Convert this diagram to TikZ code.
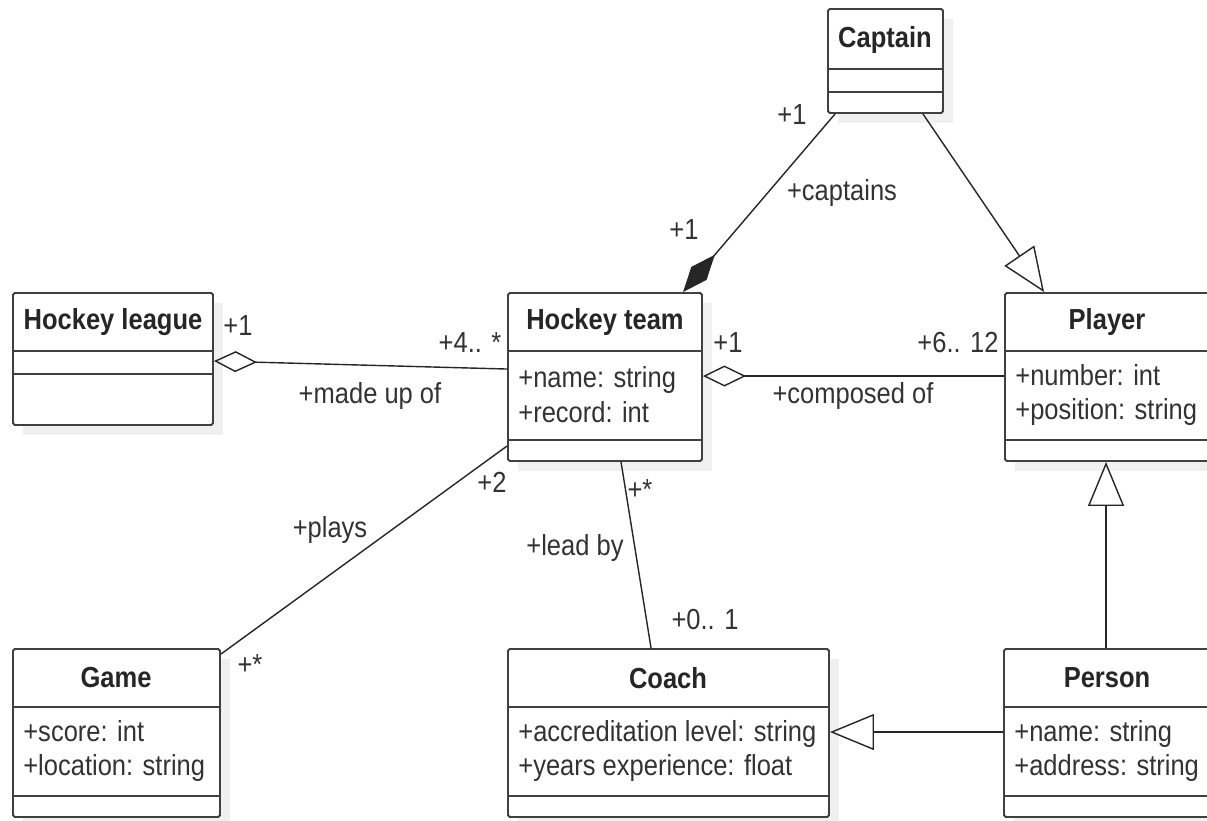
\documentclass[tikz,border=0pt]{standalone}
\usepackage{fontspec}
\setmainfont{Liberation Sans}[FakeStretch=0.88]
\usetikzlibrary{arrows.meta,calc,fit}

\tikzset{
  classbox/.style={draw=black!75, line width=1.1pt, fill=white, inner sep=0pt, rounded corners=1pt},
  classsep/.style={draw=black!75, line width=1.1pt},
  shadowbox/.style={fill=black!6},
  classname/.style={font=\bfseries\fontsize{16.5}{19}\selectfont, text=black!85},
  attr/.style={font=\fontsize{16.5}{19.8}\selectfont, align=left, anchor=west, inner sep=0pt, text=black!80},
  lbl/.style={font=\fontsize{16.5}{19}\selectfont, inner sep=0pt, text=black!80},
  assoc/.style={draw=black!85, line width=0.8pt},
  aggr/.style={assoc, {Diamond[open, length=0.86cm, width=0.42cm]}-},
  comp/.style={assoc, -{Diamond[length=0.98cm, width=0.4cm]}},
  inherit/.style={assoc, -{Triangle[open, length=0.88cm, width=0.72cm]}},
}

% class box: name, left, top, right, bottom, first and second separator (pixels)
\newcommand{\umlclass}[7]{%
  \fill[shadowbox] (#2+10,#3+10) rectangle (#4+10,#5+10);
  \node[classbox, fit={(#2,#3) (#4,#5)}] (#1) {};
  \draw[classsep] (#2,#6) -- (#4,#6);
  \draw[classsep] (#2,#7) -- (#4,#7);
}

\begin{document}
\begin{tikzpicture}[x=0.02cm, y=-0.02cm]
    \clip (0,0) rectangle (1207,821);
    \fill[white] (0,0) rectangle (1207,821);

    % Classes
    \umlclass{captain}{828}{9}{943}{113}{69}{92}
    \umlclass{league}{13}{293}{213}{425}{351}{374}
    \umlclass{team}{508}{293}{702}{461}{351}{440}
    \umlclass{player}{1005}{293}{1210}{461}{351}{440}
    \umlclass{game}{13}{649}{220}{817}{707}{796}
    \umlclass{coach}{508}{649}{829}{817}{707}{796}
    \umlclass{person}{1004}{649}{1210}{817}{707}{796}

    % Class names and attributes
    \node[classname] (captain-name) at (885,40) {Captain};
    \node[classname] (league-name) at (113,322) {Hockey league};
    \node[classname] (team-name) at (605,322) {Hockey team};
    \node[attr] (team-attr) at (518,395) {+name: string\\+record: int};
    \node[classname] (player-name) at (1107,322) {Player};
    \node[attr] (player-attr) at (1015,395) {+number: int\\+position: string};
    \node[classname] (game-name) at (116,678) {Game};
    \node[attr] (game-attr) at (23,751) {+score: int\\+location: string};
    \node[classname] (coach-name) at (668,678) {Coach};
    \node[attr] (coach-attr) at (518,751) {+accreditation level: string\\+years experience: float};
    \node[classname] (person-name) at (1107,678) {Person};
    \node[attr] (person-attr) at (1014,751) {+name: string\\+address: string};

    % Relations
    \draw[comp] ($(captain.south west)+(8,0)$) -- ($(team.north west)+(176,0)$);
    \draw[inherit] ($(captain.south east)+(-21,0)$) -- ($(player.north west)+(40,0)$);
    \draw[aggr] ($(league.north east)+(0,69)$) -- ($(team.north west)+(0,77)$);
    \draw[aggr] ($(team.north east)+(0,84)$) -- ($(player.north west)+(0,84)$);
    \draw[assoc] ($(team.north west)+(0,154)$) -- ($(game.north east)+(0,6)$);
    \draw[assoc] ($(team.south west)+(114,0)$) -- ($(coach.north west)+(144,0)$);
    \draw[inherit] ($(person.north west)+(103,0)$) -- ($(player.south west)+(102,0)$);
    \draw[inherit] ($(person.north west)+(0,84)$) -- ($(coach.north east)+(0,84)$);

    % Multiplicities and roles
    \node[lbl] (captain-mult) at (792,115) {+1};
    \node[lbl] (captains) at (842,193) {+captains};
    \node[lbl] (team-mult-cap) at (684,230) {+1};
    \node[lbl] (league-mult) at (238,326) {+1};
    \node[lbl] (team-mult-league) at (470,343) {+4.. *};
    \node[lbl] (madeup) at (370,396) {+made up of};
    \node[lbl] (team-mult-player) at (728,343) {+1};
    \node[lbl] (player-mult) at (958,343) {+6.. 12};
    \node[lbl] (composed) at (853,396) {+composed of};
    \node[lbl] (team-mult-game) at (492,482) {+2};
    \node[lbl] (plays) at (330,530) {+plays};
    \node[lbl] (game-mult) at (250,665) {+*};
    \node[lbl] (team-mult-coach) at (640,490) {+*};
    \node[lbl] (leadby) at (575,548) {+lead by};
    \node[lbl] (coach-mult) at (705,620) {+0.. 1};

\end{tikzpicture}
\end{document}
